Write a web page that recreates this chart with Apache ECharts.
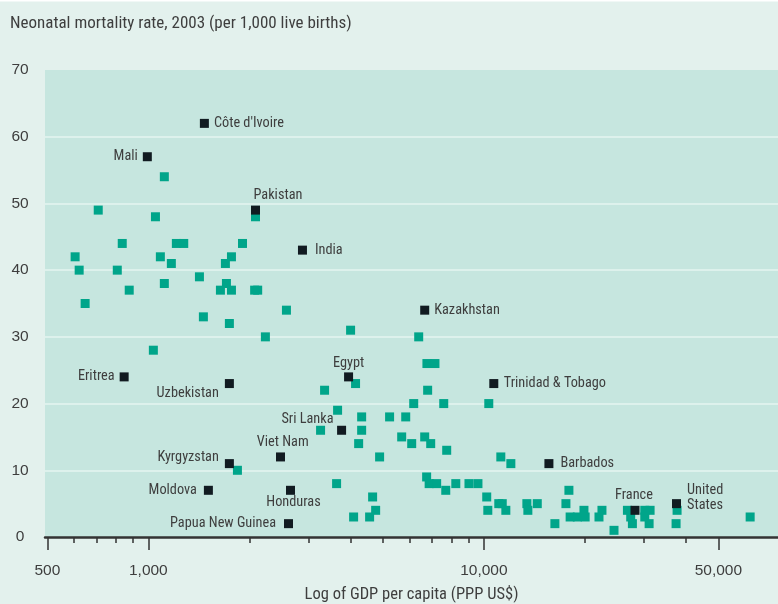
<!DOCTYPE html>
<html>
<head>
<meta charset="utf-8">
<script src="https://cdn.jsdelivr.net/npm/echarts@6/dist/echarts.min.js"></script>
<style>
  html, body { margin: 0; padding: 0; background: #e3f1ed; }
  #chart { width: 778px; height: 604px; }
</style>
</head>
<body>
<div id="chart"></div>
<script>
// other countries (teal squares)
const otherGdp = [
  1116, 709, 2086, 1050, 836, 1212, 1275, 1908, 605, 1086,
  1769, 1171, 1697, 622, 808, 1420, 1116, 1709, 877, 1640,
  1769, 2074, 2118, 648, 2580, 1459, 1744, 2233, 1035, 1843,
  4007, 6395, 6766, 7150, 4146, 3352, 6800, 6180, 7594, 10345,
  3665, 4323, 5237, 5850, 3261, 4323, 5690, 6664, 4235, 6095,
  6944, 7750, 4890, 11236, 12037, 6753, 3640, 6870, 7234, 8249,
  9030, 9604, 7700, 4661, 10200, 4759, 10276, 11080, 11347, 11630,
  13435, 13527, 14430, 4091, 4566,
  17930, 17566, 16285, 18080, 18996, 20045, 19880, 22494, 22040, 24434,
  26790, 27400, 27720, 30180, 31300, 30180, 31090, 37670, 37410, 62200
];
const otherRate = [
  54, 49, 48, 48, 44, 44, 44, 44, 42, 42,
  42, 41, 41, 40, 40, 39, 38, 38, 37, 37,
  37, 37, 37, 35, 34, 33, 32, 30, 28, 10,
  31, 30, 26, 26, 23, 22, 22, 20, 20, 20,
  19, 18, 18, 18, 16, 16, 15, 15, 14, 14,
  14, 13, 12, 12, 11, 9, 8, 8, 8, 8,
  8, 8, 7, 6, 6, 4, 4, 5, 5, 4,
  5, 4, 5, 3, 3,
  7, 5, 2, 3, 3, 3, 4, 4, 3, 1,
  4, 3, 2, 4, 4, 3, 2, 4, 2, 3
];

// named countries (black squares)
const countries = [
  "Côte d'Ivoire", 'Mali', 'Pakistan', 'India', 'Kazakhstan', 'Eritrea',
  'Egypt', 'Uzbekistan', 'Trinidad & Tobago', 'Sri Lanka', 'Viet Nam',
  'Kyrgyzstan', 'Barbados', 'Moldova', 'Honduras', 'France',
  'United States', 'Papua New Guinea'
];
const countryGdp = [
  1469, 993, 2086, 2880, 6664, 847,
  3952, 1744, 10707, 3767, 2477,
  1744, 15630, 1510, 2653, 28220,
  37520, 2617
];
const countryRate = [
  62, 57, 49, 43, 34, 24,
  24, 23, 23, 16, 12,
  11, 11, 7, 7, 4,
  5, 2
];

const majorTicks = [500, 1000, 10000, 50000];
const minorTicks = [600, 700, 800, 900, 2000, 3000, 4000, 5000, 6000, 7000, 8000, 9000, 20000, 30000, 40000];

const textColor = '#3e3e3e';
const condensed = '"Roboto Condensed", "Liberation Sans", sans-serif';
const regular = '"Liberation Sans", Arial, sans-serif';

// where each country name sits relative to its square
const labelPlace = {
  "Côte d'Ivoire": { position: 'right', distance: 5 },
  'Mali': { position: 'left', distance: 5 },
  'Pakistan': { position: [2.5, -10.3], align: 'left', verticalAlign: 'middle' },
  'India': { position: 'right', distance: 8 },
  'Kazakhstan': { position: 'right', distance: 5 },
  'Eritrea': { position: 'left', distance: 5 },
  'Egypt': { position: [4.5, -8.5], align: 'center', verticalAlign: 'middle' },
  'Uzbekistan': { position: [-6, 14.4], align: 'right', verticalAlign: 'middle' },
  'Trinidad & Tobago': { position: 'right', distance: 5.5 },
  'Sri Lanka': { position: [-3.5, -6.8], align: 'right', verticalAlign: 'middle' },
  'Viet Nam': { position: [6.7, -9.6], align: 'center', verticalAlign: 'middle' },
  'Kyrgyzstan': { position: [-6, -1.6], align: 'right', verticalAlign: 'middle' },
  'Barbados': { position: 'right', distance: 7 },
  'Moldova': { position: 'left', distance: 7 },
  'Honduras': { position: [7.5, 16.9], align: 'center', verticalAlign: 'middle' },
  'France': { position: [3.5, -10.3], align: 'center', verticalAlign: 'middle' },
  'United States': { position: [15, -1], align: 'left', verticalAlign: 'middle',
                     formatter: 'United\nStates', lineHeight: 15.3 },
  'Papua New Guinea': { position: 'left', distance: 8 }
};

const chart = echarts.init(document.getElementById('chart'));

const otherData = otherGdp.map((g, i) => [g, otherRate[i]]);
const countryData = countries.map((name, i) => ({
  name: name,
  value: [countryGdp[i], countryRate[i]],
  label: Object.assign({ show: true }, labelPlace[name])
}));

const xMin = 492;
const xMax = 75300;

const option = {
  backgroundColor: '#e3f1ed',
  animation: false,
  title: {
    text: 'Neonatal mortality rate, 2003 (per 1,000 live births)',
    left: 5,
    top: 10,
    textStyle: { fontFamily: condensed, fontSize: 17, fontWeight: 'normal', color: textColor }
  },
  graphic: [
    { type: 'rect', left: 0, top: 0, shape: { width: 778, height: 1.5 }, style: { fill: '#ffffff' } }
  ],
  grid: {
    left: 45,
    right: 0,
    top: 70,
    bottom: 67,
    outerBoundsMode: 'none',
    containLabel: false,
    show: true,
    backgroundColor: '#c6e6df',
    borderWidth: 0
  },
  xAxis: [
    {
      type: 'log',
      min: xMin,
      max: xMax,
      name: 'Log of GDP per capita (PPP US$)',
      nameLocation: 'middle',
      nameGap: 49,
      nameTextStyle: { fontFamily: condensed, fontSize: 16.5, color: textColor },
      axisLine: { show: true, onZero: false, lineStyle: { color: '#333333', width: 2.5 } },
      axisTick: { show: true, customValues: majorTicks, length: 13, lineStyle: { color: '#333333', width: 1.5 } },
      axisLabel: {
        customValues: majorTicks,
        margin: 26,
        fontFamily: regular,
        fontSize: 15.5,
        color: textColor,
        formatter: (v) => Math.round(v).toLocaleString('en-US')
      },
      splitLine: { show: false }
    },
    {
      type: 'log',
      min: xMin,
      max: xMax,
      position: 'bottom',
      offset: 0,
      axisLine: { show: false, onZero: false },
      axisTick: { show: true, customValues: minorTicks, length: 6, lineStyle: { color: '#333333', width: 1.5 } },
      axisLabel: { show: false },
      splitLine: { show: false }
    }
  ],
  yAxis: {
    type: 'value',
    min: 0,
    max: 70,
    interval: 10,
    axisLine: { show: false },
    axisTick: { show: false },
    axisLabel: {
      margin: 25,
      align: 'center',
      fontFamily: regular,
      fontSize: 15.5,
      color: textColor
    },
    splitLine: {
      show: true,
      showMinLine: false,
      showMaxLine: false,
      lineStyle: { color: '#e4f4f1', width: 1.5 }
    }
  },
  series: [
    {
      name: 'Other countries',
      type: 'scatter',
      xAxisIndex: 0,
      symbol: 'rect',
      symbolSize: 9,
      itemStyle: { color: '#00a58a', opacity: 1 },
      data: otherData
    },
    {
      name: 'Named countries',
      type: 'scatter',
      xAxisIndex: 0,
      symbol: 'rect',
      symbolSize: 9,
      itemStyle: { color: '#111b21', opacity: 1 },
      label: {
        show: true,
        fontFamily: condensed,
        fontSize: 14.3,
        color: textColor,
        formatter: '{b}'
      },
      labelLayout: { hideOverlap: false },
      data: countryData
    }
  ]
};

chart.setOption(option);
</script>
</body>
</html>
